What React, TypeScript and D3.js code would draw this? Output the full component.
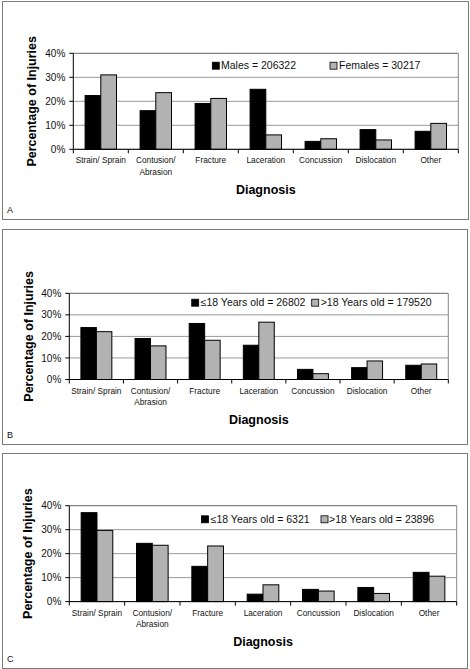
import React from "react";
import * as d3 from "d3";

const categories = ["Strain/ Sprain", "Contusion/ Abrasion", "Fracture", "Laceration", "Concussion", "Dislocation", "Other"];
const categoryLines = [["Strain/ Sprain"], ["Contusion/", "Abrasion"], ["Fracture"], ["Laceration"], ["Concussion"], ["Dislocation"], ["Other"]];
const yTicks = [0, 10, 20, 30, 40];

const malesA = [22.4, 16.1, 19.1, 25.0, 3.3, 8.2, 7.5];
const femalesA = [31.0, 23.6, 21.2, 6.0, 4.4, 3.9, 10.8];
const under18B = [24.1, 19.0, 26.0, 15.9, 4.7, 5.5, 6.6];
const over18B = [22.2, 15.6, 18.2, 26.6, 2.7, 8.6, 7.2];
const under18C = [37.1, 24.3, 14.7, 3.1, 5.1, 5.9, 12.2];
const over18C = [29.7, 23.5, 23.2, 7.0, 4.4, 3.4, 10.6];

const legendA = ["Males = 206322", "Females = 30217"];
const legendB = ["≤18 Years old = 26802", ">18 Years old = 179520"];
const legendC = ["≤18 Years old = 6321", ">18 Years old = 23896"];

const FONT = "'Liberation Sans', Arial, Helvetica, sans-serif";
const GRAY = "#b2b2b2";

type PanelCfg = {
  letter: string;
  frame: [number, number, number, number];
  plot: { left: number; right: number; top: number; bottom: number };
  s1: number[];
  s2: number[];
  legend: string[];
  leg: { y: number; sq1: number; t1: number; sq2: number; t2: number };
  yTitleX: number;
};

const panels: PanelCfg[] = [
  {
    letter: "A",
    frame: [2, 1, 468, 219],
    plot: { left: 73.3, right: 458.3, top: 53.3, bottom: 149.3 },
    s1: malesA,
    s2: femalesA,
    legend: legendA,
    leg: { y: 65.7, sq1: 212.3, t1: 221, sq2: 330, t2: 339 },
    yTitleX: 31.7,
  },
  {
    letter: "B",
    frame: [2, 229, 467, 444],
    plot: { left: 69.3, right: 448.3, top: 293.3, bottom: 379.5 },
    s1: under18B,
    s2: over18B,
    legend: legendB,
    leg: { y: 302.7, sq1: 191.7, t1: 200.7, sq2: 311.7, t2: 320.7 },
    yTitleX: 28.3,
  },
  {
    letter: "C",
    frame: [2, 453, 467, 668],
    plot: { left: 69.3, right: 456.7, top: 505.7, bottom: 601.6 },
    s1: under18C,
    s2: over18C,
    legend: legendC,
    leg: { y: 519.3, sq1: 201.5, t1: 210.7, sq2: 321, t2: 329 },
    yTitleX: 27.7,
  },
];

function Panel({ cfg }: { cfg: PanelCfg }) {
  const { plot, frame } = cfg;
  const x0 = d3
    .scaleBand<string>()
    .domain(categories)
    .range([plot.left, plot.right])
    .paddingInner(0.4286)
    .paddingOuter(0.2143);
  const x1 = d3.scaleBand<string>().domain(["s1", "s2"]).range([0, x0.bandwidth()]);
  const y = d3.scaleLinear().domain([0, 40]).range([plot.bottom, plot.top]);
  const step = x0.step();
  const boundaries = d3.range(categories.length + 1).map((i) => plot.left + i * step);
  const cx = (plot.left + plot.right) / 2;
  const cy = (plot.top + plot.bottom) / 2;
  const sq = 7;
  return (
    <g>
      <rect
        x={frame[0] + 0.5}
        y={frame[1] + 0.5}
        width={frame[2] - frame[0]}
        height={frame[3] - frame[1]}
        fill="white"
        stroke="#7a7a7a"
        strokeWidth={1}
      />
      {/* gridlines */}
      {yTicks.map((t) => (
        <line key={"g" + t} x1={plot.left} x2={plot.right} y1={y(t)} y2={y(t)} stroke={t === 40 ? "#666" : "#999"} strokeWidth={1} />
      ))}
      <line x1={plot.right} x2={plot.right} y1={plot.top} y2={plot.bottom} stroke="#888" strokeWidth={1} />
      {/* bars */}
      {categories.map((c, i) => (
        <g key={c}>
          <rect
            x={(x0(c) as number) + (x1("s1") as number)}
            y={y(cfg.s1[i])}
            width={x1.bandwidth()}
            height={plot.bottom - y(cfg.s1[i])}
            fill="#000"
            stroke="#000"
            strokeWidth={1}
          />
          <rect
            x={(x0(c) as number) + (x1("s2") as number)}
            y={y(cfg.s2[i])}
            width={x1.bandwidth()}
            height={plot.bottom - y(cfg.s2[i])}
            fill={GRAY}
            stroke="#000"
            strokeWidth={1}
          />
        </g>
      ))}
      {/* axes */}
      <line x1={plot.left} x2={plot.left} y1={plot.top} y2={plot.bottom} stroke="#000" strokeWidth={1} />
      <line x1={plot.left} x2={plot.right} y1={plot.bottom} y2={plot.bottom} stroke="#000" strokeWidth={1} />
      {yTicks.map((t) => (
        <g key={"t" + t}>
          <line x1={plot.left - 4} x2={plot.left} y1={y(t)} y2={y(t)} stroke="#000" strokeWidth={1} />
          <text x={plot.left - 8} y={y(t)} dy="0.36em" textAnchor="end" fontSize={10} fontFamily={FONT} fill="#111">
            {t + "%"}
          </text>
        </g>
      ))}
      {boundaries.map((b, i) => (
        <line key={"xb" + i} x1={b} x2={b} y1={plot.bottom} y2={plot.bottom + 4} stroke="#000" strokeWidth={1} />
      ))}
      {categories.map((c, i) => (
        <text key={"cl" + c} x={(x0(c) as number) + x0.bandwidth() / 2} y={plot.bottom + 14} textAnchor="middle" fontSize={8.3} fontFamily={FONT} fill="#111">
          {categoryLines[i].map((ln, j) => (
            <tspan key={j} x={(x0(c) as number) + x0.bandwidth() / 2} dy={j === 0 ? 0 : 11.5}>
              {ln}
            </tspan>
          ))}
        </text>
      ))}
      {/* legend */}
      <rect x={cfg.leg.sq1} y={cfg.leg.y - sq / 2} width={sq} height={sq} fill="#000" stroke="#000" strokeWidth={0.8} />
      <text x={cfg.leg.t1} y={cfg.leg.y} dy="0.36em" fontSize={10.5} fontFamily={FONT} fill="#111">
        {cfg.legend[0]}
      </text>
      <rect x={cfg.leg.sq2} y={cfg.leg.y - sq / 2} width={sq} height={sq} fill={GRAY} stroke="#000" strokeWidth={0.8} />
      <text x={cfg.leg.t2} y={cfg.leg.y} dy="0.36em" fontSize={10.5} fontFamily={FONT} fill="#111">
        {cfg.legend[1]}
      </text>
      {/* titles */}
      <text
        transform={`translate(${cfg.yTitleX},${cy}) rotate(-90)`}
        dy="0.36em"
        textAnchor="middle"
        fontSize={12.5}
        fontWeight="bold"
        fontFamily={FONT}
        fill="#000"
      >
        Percentage of Injuries
      </text>
      <text x={cx} y={plot.bottom + 44.5} textAnchor="middle" fontSize={12.5} fontWeight="bold" fontFamily={FONT} fill="#000">
        Diagnosis
      </text>
      <text x={7} y={frame[3] - 6} fontSize={9} fontFamily={FONT} fill="#111">
        {cfg.letter}
      </text>
    </g>
  );
}

export default function App() {
  return (
    <svg width={470} height={669} style={{ position: "absolute", left: 0, top: 0, background: "white" }}>
      <rect x={0} y={0} width={470} height={669} fill="white" />
      {panels.map((p) => (
        <Panel key={p.letter} cfg={p} />
      ))}
    </svg>
  );
}
